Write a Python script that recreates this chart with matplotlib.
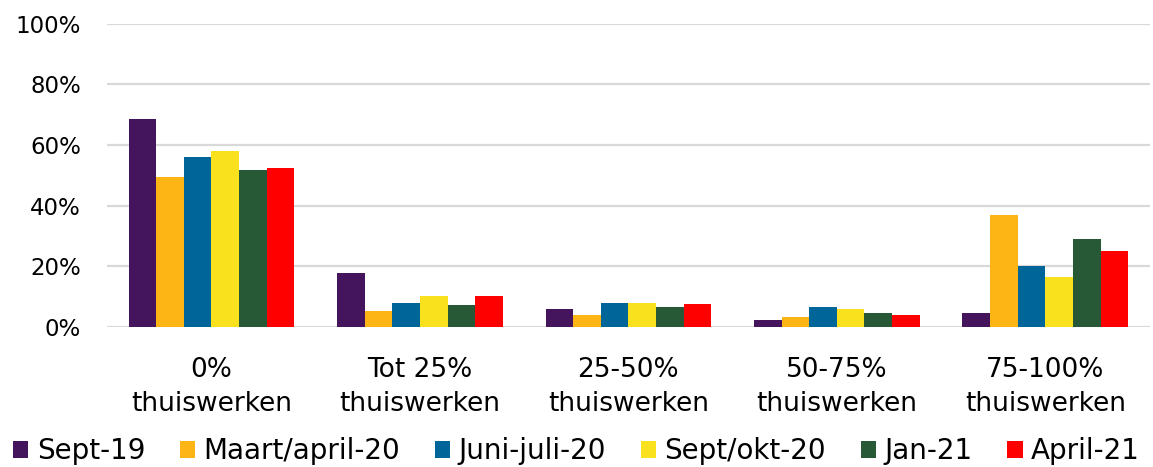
import numpy as np
import matplotlib.pyplot as plt

categories = ["0%\nthuiswerken", "Tot 25%\nthuiswerken", "25-50%\nthuiswerken",
              "50-75%\nthuiswerken", "75-100%\nthuiswerken"]
series = ["Sept-19", "Maart/april-20", "Juni-juli-20", "Sept/okt-20", "Jan-21", "April-21"]
colors = ["#44145C", "#FDB415", "#006699", "#F9E11E", "#275937", "#FF0000"]

sept19 = [68.5, 17.8, 5.9, 2.4, 4.5]
maart20 = [49.5, 5.3, 4.0, 3.2, 37.0]
juni20 = [56.0, 8.0, 8.0, 6.7, 20.0]
sept20 = [58.0, 10.1, 8.0, 5.9, 16.5]
jan21 = [51.7, 7.3, 6.7, 4.5, 29.1]
april21 = [52.5, 10.1, 7.4, 4.0, 25.0]
values = [sept19, maart20, juni20, sept20, jan21, april21]

fig = plt.figure(figsize=(11.53, 4.67), dpi=100)
ax = fig.add_axes([0.093, 0.30, 0.904, 0.649])

x = np.arange(len(categories))
n = len(series)
group = 0.795
w = group / n
for i, (name, vals, c) in enumerate(zip(series, values, colors)):
    ax.bar(x - group / 2 + w * (i + 0.5), vals, width=w, color=c, label=name, zorder=3)

ax.set_ylim(0, 100)
ax.set_xlim(-0.5, len(categories) - 0.5)
ax.set_yticks(range(0, 101, 20))
ax.set_yticklabels([f"{v}%" for v in range(0, 101, 20)], fontsize=16.5)
ax.set_xticks(x)
ax.set_xticklabels(categories, fontsize=19, linespacing=1.4)
ax.tick_params(axis="both", length=0)
ax.tick_params(axis="x", pad=22)
ax.tick_params(axis="y", pad=19)
ax.grid(axis="y", color="#d9d9d9", linewidth=1.6, zorder=0)
for s in ax.spines.values():
    s.set_visible(False)

fig.legend(loc="lower center", ncol=6, fontsize=20, frameon=False,
           handlelength=0.55, handleheight=0.55, handletextpad=0.3,
           columnspacing=1.25, bbox_to_anchor=(0.5, -0.05))

fig.savefig("out.png", dpi=100)
